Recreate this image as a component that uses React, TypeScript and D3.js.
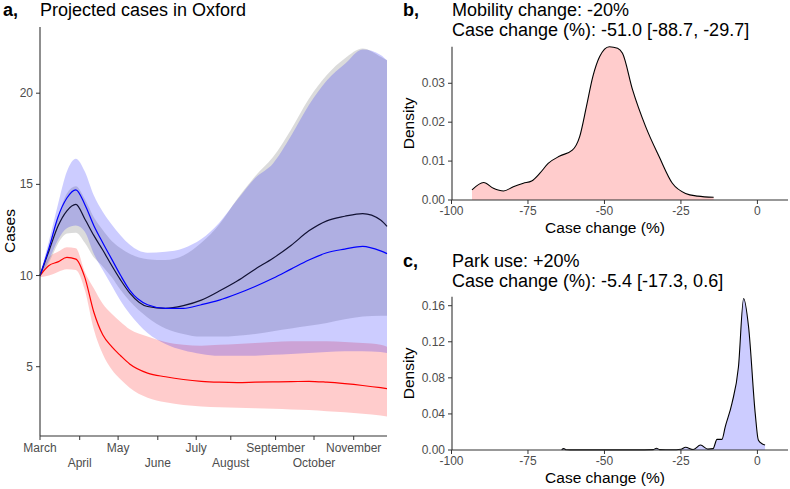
import React from 'react';
import * as d3 from 'd3';

// panel a: projected cases, days since 1 March
const days = [0, 7, 14, 21, 28, 35, 42, 49, 56, 63, 70, 84, 98, 112, 126, 140, 154, 168, 182, 196, 210, 224, 238, 252, 266, 271];
const baseLine = [10, 11.35, 12.7, 13.55, 13.9, 13.1, 12.2, 11.4, 10.55, 9.75, 9.05, 8.3, 8.2, 8.35, 8.65, 9.15, 9.7, 10.35, 10.95, 11.65, 12.45, 13.0, 13.25, 13.4, 13.05, 12.7];
const parkLine = [10, 11.5, 13.2, 14.25, 14.7, 13.9, 12.75, 11.8, 10.9, 10.0, 9.2, 8.4, 8.2, 8.2, 8.4, 8.65, 9.0, 9.4, 9.85, 10.35, 10.85, 11.25, 11.45, 11.6, 11.35, 11.2];
const mobilityLine = [10, 10.55, 10.75, 11.0, 10.9, 9.9, 8.0, 6.75, 6.1, 5.6, 5.15, 4.65, 4.45, 4.3, 4.2, 4.15, 4.13, 4.15, 4.17, 4.18, 4.2, 4.15, 4.07, 3.97, 3.85, 3.8];
const baseLo = [9.9, 10.7, 11.75, 12.3, 12.35, 11.8, 11.0, 10.5, 9.9, 9.2, 8.6, 7.7, 7.1, 6.8, 6.65, 6.65, 6.7, 6.8, 6.95, 7.1, 7.25, 7.4, 7.6, 7.75, 7.8, 7.8];
const baseHi = [10.05, 11.6, 13.2, 14.5, 14.9, 14.2, 13.2, 12.5, 11.9, 11.5, 11.2, 10.9, 10.85, 11.1, 11.8, 12.8, 14.2, 15.45, 16.5, 18.0, 19.7, 21.0, 21.9, 22.45, 22.0, 21.8];
const parkLo = [9.95, 10.85, 11.95, 12.6, 12.75, 12.4, 11.2, 10.3, 9.45, 8.6, 7.9, 6.85, 6.25, 5.9, 5.7, 5.6, 5.6, 5.6, 5.65, 5.7, 5.75, 5.8, 5.85, 5.85, 5.8, 5.75];
const parkHi = [10.1, 11.9, 13.9, 15.7, 16.4, 15.7, 14.4, 13.5, 12.8, 12.2, 11.7, 11.25, 11.3, 11.5, 12.0, 12.9, 14.15, 15.35, 16.15, 17.65, 19.35, 20.7, 21.6, 22.4, 22.1, 21.8];
const mobilityLo = [9.9, 10.0, 10.2, 10.35, 10.3, 9.2, 7.05, 5.7, 4.85, 4.3, 3.85, 3.3, 3.05, 2.9, 2.82, 2.78, 2.75, 2.72, 2.7, 2.66, 2.62, 2.56, 2.5, 2.42, 2.32, 2.27];
const mobilityHi = [10.1, 11.0, 11.3, 11.55, 11.5, 10.2, 9.3, 8.45, 7.9, 7.45, 7.05, 6.65, 6.35, 6.2, 6.15, 6.2, 6.25, 6.3, 6.35, 6.4, 6.4, 6.4, 6.35, 6.3, 6.2, 6.1];

const monthDays = [0, 31, 61, 92, 122, 149, 184, 214, 245];
const monthLabels = ['March', 'April', 'May', 'June', 'July', 'August', 'September', 'October', 'November'];
const caseTicks = [5, 10, 15, 20];

// panel b: mobility -20%
const mobilityChange = [-93.3, -89.5, -86.3, -83.0, -79.8, -76.5, -73.8, -71.1, -68.4, -64.6, -60.5, -58.1, -55.9, -53.8, -51.6, -48.4, -45.7, -44.1, -40.8, -36.5, -32.1, -27.8, -23.5, -19.5, -14.3];
const mobilityDensity = [0.0026, 0.0045, 0.003, 0.0023, 0.0034, 0.0043, 0.0049, 0.0069, 0.0094, 0.0113, 0.0128, 0.0163, 0.024, 0.0317, 0.0368, 0.0394, 0.039, 0.0377, 0.0283, 0.0188, 0.0111, 0.0043, 0.0017, 0.001, 0.0007];
const mobilityTicks = [0, 0.01, 0.02, 0.03];

// panel c: park use +20%
const parkChange = [-64, -63.3, -62.5, -60, -40, -34, -33, -32, -28, -25, -23.5, -21, -18.6, -16.2, -14.5, -13.2, -11.6, -10.5, -8.3, -6.2, -4.5, -2.9, -0.7, 0.3, 1.5, 2.5];
const parkDensity = [0.0003, 0.0015, 0.0003, 0.0001, 0.0001, 0.0004, 0.002, 0.0004, 0.0002, 0.0008, 0.003, 0.0005, 0.0055, 0.001, 0.0015, 0.0118, 0.0118, 0.026, 0.052, 0.092, 0.168, 0.137, 0.04, 0.011, 0.007, 0.0055];
const parkTicks = [0, 0.04, 0.08, 0.12, 0.16];

const changeTicks = [-100, -75, -50, -25, 0];

const FONT = 'Liberation Sans, Arial, sans-serif';
const TICK = '#4d4d4d';
const AXIS = '#333333';

function DensityPanel({ top, bottom, ymax, xs, ys, ticks, fill, fmt, letter, line1, line2, titleY }: any) {
  const x = d3.scaleLinear().domain([-100, 10]).range([451.5, 788]);
  const y = d3.scaleLinear().domain([0, ymax]).range([bottom, top]);
  const pts = xs.map((v: number, i: number) => [v, ys[i]]);
  const area = d3.area<any>().x(d => x(d[0])).y0(y(0)).y1(d => y(d[1])).curve(d3.curveMonotoneX);
  const line = d3.line<any>().x(d => x(d[0])).y(d => y(d[1])).curve(d3.curveMonotoneX);
  return (
    <g fontFamily={FONT}>
      <text x={403} y={titleY} fontSize={18} fontWeight="bold">{letter}</text>
      <text x={452} y={titleY} fontSize={18}>{line1}</text>
      <text x={452} y={titleY + 19.5} fontSize={18}>{line2}</text>
      <path d={area(pts) || ''} fill={fill} />
      <path d={line(pts) || ''} fill="none" stroke="#000" strokeWidth={1.1} />
      <line x1={452} x2={452} y1={top} y2={bottom} stroke={AXIS} strokeWidth={1.1} />
      <line x1={452} x2={788} y1={bottom} y2={bottom} stroke={AXIS} strokeWidth={1.1} />
      {ticks.map((t: number) => (
        <g key={t}>
          <line x1={448} x2={452} y1={y(t)} y2={y(t)} stroke={AXIS} />
          <text x={445} y={y(t) + 4} textAnchor="end" fontSize={12} fill={TICK}>{fmt(t)}</text>
        </g>
      ))}
      {changeTicks.map(t => (
        <g key={t}>
          <line x1={x(t)} x2={x(t)} y1={bottom} y2={bottom + 4} stroke={AXIS} />
          <text x={x(t)} y={bottom + 15} textAnchor="middle" fontSize={12} fill={TICK}>{t}</text>
        </g>
      ))}
      <text x={605} y={bottom + 33} textAnchor="middle" fontSize={15.5}>Case change (%)</text>
      <text transform={`translate(414,${(top + bottom) / 2}) rotate(-90)`} textAnchor="middle" fontSize={15.5}>Density</text>
    </g>
  );
}

export default function App() {
  const x = d3.scaleLinear().domain([0, 271]).range([40, 387]);
  const y = d3.scaleLinear().domain([1.2, 23.63]).range([436, 27]);
  const band = (lo: number[], hi: number[]) =>
    d3.area<number>().x(d => x(d)).y0((_, i) => y(lo[i])).y1((_, i) => y(hi[i])).curve(d3.curveMonotoneX)(days) || '';
  const path = (vals: number[]) =>
    d3.line<number>().x(d => x(d)).y((_, i) => y(vals[i])).curve(d3.curveMonotoneX)(days) || '';

  return (
    <svg width={790} height={489} style={{ position: 'absolute', left: 0, top: 0, background: '#fff' }}>
      <g fontFamily={FONT}>
        <text x={3} y={16} fontSize={18} fontWeight="bold">a,</text>
        <text x={40} y={16} fontSize={18}>Projected cases in Oxford</text>

        <path d={band(mobilityLo, mobilityHi)} fill="#ff0000" fillOpacity={0.2} />
        <path d={band(baseLo, baseHi)} fill="#a6a6a6" fillOpacity={0.4} />
        <path d={band(parkLo, parkHi)} fill="#0000ff" fillOpacity={0.2} />

        <path d={path(mobilityLine)} fill="none" stroke="#ff0000" strokeWidth={1.2} />
        <path d={path(baseLine)} fill="none" stroke="#111133" strokeWidth={1.2} />
        <path d={path(parkLine)} fill="none" stroke="#0000ff" strokeWidth={1.2} />

        <line x1={40} x2={40} y1={27} y2={436} stroke={AXIS} strokeWidth={1.1} />
        <line x1={40} x2={387} y1={436} y2={436} stroke={AXIS} strokeWidth={1.1} />
        {caseTicks.map(t => (
          <g key={t}>
            <line x1={36} x2={40} y1={y(t)} y2={y(t)} stroke={AXIS} />
            <text x={33} y={y(t) + 4} textAnchor="end" fontSize={12} fill={TICK}>{t}</text>
          </g>
        ))}
        {monthDays.map((d, i) => (
          <g key={d}>
            <line x1={x(d)} x2={x(d)} y1={436} y2={440} stroke={AXIS} />
            <text x={x(d)} y={i % 2 === 0 ? 452 : 467} textAnchor="middle" fontSize={12} fill={TICK}>{monthLabels[i]}</text>
          </g>
        ))}
        <text transform={`translate(15,${231}) rotate(-90)`} textAnchor="middle" fontSize={15.5}>Cases</text>
      </g>

      <DensityPanel top={46.7} bottom={200} ymax={0.0394} xs={mobilityChange} ys={mobilityDensity}
        ticks={mobilityTicks} fill="#ffcccc" fmt={d3.format('.2f')} letter="b,"
        line1="Mobility change: -20%" line2="Case change (%): -51.0 [-88.7, -29.7]" titleY={16} />
      <DensityPanel top={296.7} bottom={450} ymax={0.17} xs={parkChange} ys={parkDensity}
        ticks={parkTicks} fill="#ccccff" fmt={d3.format('.2f')} letter="c,"
        line1="Park use: +20%" line2="Case change (%): -5.4 [-17.3, 0.6]" titleY={267} />
    </svg>
  );
}
